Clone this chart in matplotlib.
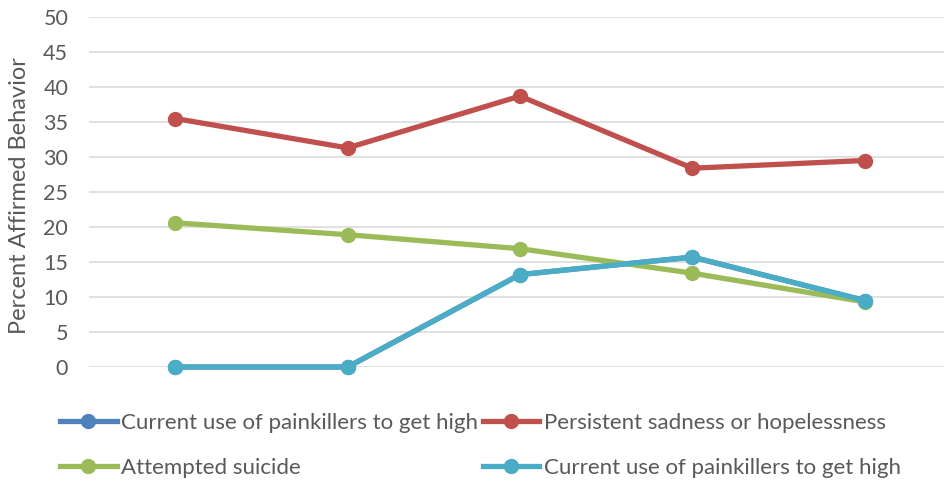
import matplotlib.pyplot as plt
from matplotlib.lines import Line2D

# Survey waves (no category labels shown on the axis)
waves = [0, 1, 2, 3, 4]

painkillers = [0.0, 0.0, 13.2, 15.7, 9.5]
sadness = [35.5, 31.3, 38.7, 28.4, 29.5]
suicide = [20.6, 18.9, 16.9, 13.4, 9.3]
painkillers_2 = [0.0, 0.0, 13.2, 15.7, 9.5]

series_names = ["Current use of painkillers to get high",
                "Persistent sadness or hopelessness",
                "Attempted suicide",
                "Current use of painkillers to get high"]
series_data = [painkillers, sadness, suicide, painkillers_2]
series_colors = ["#4F81BD", "#C0504D", "#9BBB59", "#4BACC6"]

y_ticks = list(range(0, 51, 5))

text_color = "#595959"
plt.rcParams['font.family'] = ['Lato', 'DejaVu Sans']

fig = plt.figure(figsize=(9.44, 4.82), dpi=100)
ax = fig.add_axes([89 / 944, 1 - 367 / 482, 862 / 944, 350 / 482])

handles = []
for name, vals, col in zip(series_names, series_data, series_colors):
    ln, = ax.plot(waves, vals, color=col, lw=3.8, marker="o", ms=10,
                  solid_capstyle="round", solid_joinstyle="round",
                  clip_on=False, label=name)
    handles.append(ln)

ax.set_xlim(-0.5, 4.5)
ax.set_ylim(0, 50)
ax.set_yticks(y_ticks)
ax.set_xticks([])
ax.grid(axis="y", color="#D9D9D9", lw=1.1)
ax.set_axisbelow(True)
for sp in ax.spines.values():
    sp.set_visible(False)
ax.tick_params(axis="y", length=0, pad=15, labelsize=15.5, labelcolor=text_color)
ax.set_ylabel("Percent Affirmed Behavior", fontsize=17, color=text_color)
ax.yaxis.set_label_coords(-0.069, 0.49)

# legend rows: blue/red on top, green/teal below
order = [0, 2, 1, 3]
leg_handles = [Line2D([], [], color=series_colors[i], lw=3.8, marker="o", ms=10)
               for i in order]
leg = fig.legend(leg_handles, [series_names[i] for i in order], ncol=2,
                 loc="upper left", bbox_to_anchor=(60 / 944, 1 - 413 / 482),
                 frameon=False, fontsize=16, handlelength=2.55, handletextpad=0.2,
                 columnspacing=0.2, labelspacing=1.12, borderaxespad=0,
                 borderpad=0)
for t in leg.get_texts():
    t.set_color(text_color)

fig.savefig("out.png", dpi=100)
